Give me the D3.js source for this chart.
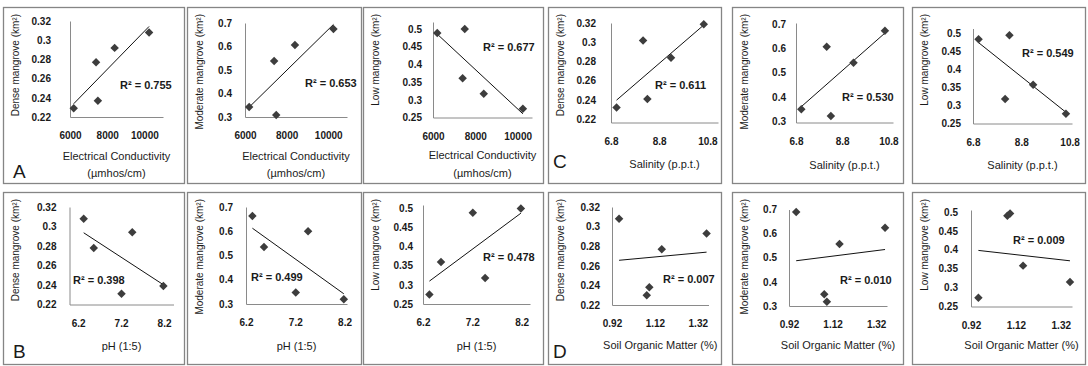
<!DOCTYPE html>
<html>
<head>
<meta charset="utf-8" />
<title>Mangrove cover vs soil factors</title>
<style>
html, body {
	margin: 0px;
	padding: 0px;
	background: #fff;
}
svg text {
	font-family: "Liberation Sans", Arial, sans-serif;
	fill: #1a1a1a;
}
</style>
</head>
<body>

<svg id="chart" width="1088" height="366"></svg>

<script src="https://cdn.jsdelivr.net/npm/d3@7"></script>
<script>

// soil factors, one value per site (same site order in every array)
var ec = [6200, 7400, 7500, 8400, 10250];
var salinity = [7.03, 9.29, 8.31, 8.13, 10.65];
var ph = [7.21, 6.565, 8.185, 7.46, 6.33];
var som = [1.082, 1.152, 1.094, 1.361, 0.953];

// mangrove area (km2)
var denseEC = [0.229, 0.277, 0.237, 0.292, 0.308];
var moderateEC = [0.343, 0.538, 0.309, 0.606, 0.674];
var lowEC = [0.489, 0.361, 0.500, 0.317, 0.275];

var denseSal = [0.232, 0.284, 0.241, 0.302, 0.319];
var moderateSal = [0.350, 0.541, 0.323, 0.607, 0.672];
var lowSal = [0.484, 0.358, 0.495, 0.318, 0.277];

var densePH = [0.231, 0.278, 0.239, 0.294, 0.308];
var moderatePH = [0.347, 0.535, 0.320, 0.600, 0.663];
var lowPH = [0.489, 0.360, 0.500, 0.318, 0.275];

var denseSOM = [0.230, 0.277, 0.238, 0.293, 0.308];
var moderateSOM = [0.349, 0.557, 0.318, 0.624, 0.690];
var lowSOM = [0.490, 0.358, 0.496, 0.315, 0.273];

// tick labels
var ecTicks = [6000, 8000, 10000];
var salTicks = [6.8, 8.8, 10.8];
var phTicks = [6.2, 7.2, 8.2];
var somTicks = [0.92, 1.12, 1.32];
var denseTicks = [0.22, 0.24, 0.26, 0.28, 0.3, 0.32];
var moderateTicks = [0.3, 0.4, 0.5, 0.6, 0.7];
var lowTicks = [0.25, 0.3, 0.35, 0.4, 0.45, 0.5];

// R squared as printed
var r2EC = ["0.755", "0.653", "0.677"];
var r2Sal = ["0.611", "0.530", "0.549"];
var r2PH = ["0.398", "0.499", "0.478"];
var r2SOM = ["0.007", "0.010", "0.009"];

var yTitles = ["Dense mangrove (km²)", "Moderate mangrove (km²)", "Low mangrove (km²)"];
var ecTitle = ["Electrical Conductivity", "(µmhos/cm)"];
var salTitle = ["Salinity (p.p.t.)"];
var phTitle = ["pH (1:5)"];
var somTitle = ["Soil Organic Matter (%)"];

var groupLetters = ["A", "B", "C", "D"];

// panel layout: box, plot area [left, right, top, bottom], scale domains, label spots
var panels = [
	{x: ec, y: denseEC, xt: ecTicks, yt: denseTicks, r2: r2EC[0], yTitle: yTitles[0], xTitle: ecTitle,
	 box: [3, 7, 184, 183], plot: [70, 163, 21, 117], xd: [6000, 11000], yd: [0.22, 0.32], gap: 19, r2at: [120, 85], ty: [160, 177]},
	{x: ec, y: moderateEC, xt: ecTicks, yt: moderateTicks, r2: r2EC[1], yTitle: yTitles[1], xTitle: ecTitle,
	 box: [187, 7, 361, 183], plot: [245, 347, 23, 117], xd: [6000, 10900], yd: [0.3, 0.7], gap: 13, r2at: [305, 83], ty: [160, 177]},
	{x: ec, y: lowEC, xt: ecTicks, yt: lowTicks, r2: r2EC[2], yTitle: yTitles[2], xTitle: ecTitle,
	 box: [363, 7, 543, 183], plot: [433, 532, 22, 117.5], xd: [6000, 10680], yd: [0.25, 0.52], gap: 11, r2at: [483, 47], ty: [159, 177]},
	{x: salinity, y: denseSal, xt: salTicks, yt: denseTicks, r2: r2Sal[0], yTitle: yTitles[0], xTitle: salTitle,
	 box: [548, 7, 721, 183], plot: [611, 718, 23, 122.5], xd: [6.8, 11.24], yd: [0.2164, 0.3204], gap: 15, r2at: [655, 85], ty: [168]},
	{x: salinity, y: moderateSal, xt: salTicks, yt: moderateTicks, r2: r2Sal[1], yTitle: yTitles[1], xTitle: salTitle,
	 box: [732, 7, 903, 183], plot: [796, 893, 23, 122.5], xd: [6.8, 11.0], yd: [0.296, 0.704], gap: 10, r2at: [842, 97], ty: [169]},
	{x: salinity, y: lowSal, xt: salTicks, yt: lowTicks, r2: r2Sal[2], yTitle: yTitles[2], xTitle: salTitle,
	 box: [912, 7, 1085, 183], plot: [973, 1072, 28.5, 123.5], xd: [6.8, 10.9], yd: [0.25, 0.514], gap: 12, r2at: [1022, 53], ty: [169]},

	{x: ph, y: densePH, xt: phTicks, yt: denseTicks, r2: r2PH[0], yTitle: yTitles[0], xTitle: phTitle,
	 box: [3, 192, 184, 364], plot: [69.5, 173.5, 207, 304.5], xd: [6.0, 8.42], yd: [0.22, 0.32], gap: 13, r2at: [73, 280], ty: [350]},
	{x: ph, y: moderatePH, xt: phTicks, yt: moderateTicks, r2: r2PH[1], yTitle: yTitles[1], xTitle: phTitle,
	 box: [187, 192, 361, 364], plot: [246, 347, 207, 304], xd: [6.2, 8.25], yd: [0.3, 0.7], gap: 13, r2at: [251, 277], ty: [350]},
	{x: ph, y: lowPH, xt: phTicks, yt: lowTicks, r2: r2PH[2], yTitle: yTitles[2], xTitle: phTitle,
	 box: [363, 192, 543, 364], plot: [423, 530, 205, 304], xd: [6.2, 8.37], yd: [0.25, 0.509], gap: 10, r2at: [483, 257], ty: [350]},
	{x: som, y: denseSOM, xt: somTicks, yt: denseTicks, r2: r2SOM[0], yTitle: yTitles[0], xTitle: somTitle,
	 box: [548, 192, 721, 364], plot: [612, 708.5, 207, 305], xd: [0.92, 1.37], yd: [0.22, 0.32], gap: 12, r2at: [663, 279], ty: [349]},
	{x: som, y: moderateSOM, xt: somTicks, yt: moderateTicks, r2: r2SOM[1], yTitle: yTitles[1], xTitle: somTitle,
	 box: [732, 192, 903, 364], plot: [789, 887, 209.5, 306], xd: [0.92, 1.37], yd: [0.3, 0.7], gap: 12, r2at: [840, 280], ty: [349]},
	{x: som, y: lowSOM, xt: somTicks, yt: lowTicks, r2: r2SOM[2], yTitle: yTitles[2], xTitle: somTitle,
	 box: [912, 192, 1085, 364], plot: [971, 1072, 210, 306.5], xd: [0.92, 1.37], yd: [0.25, 0.505], gap: 13, r2at: [1013, 240], ty: [349]}
];

var letterSpots = [[13, 178], [13, 358], [553, 168], [553, 358]];

var svg = d3.select("#chart");

// least squares fit, like the Excel trendline
function fit(xs, ys) {
	var mx = d3.mean(xs), my = d3.mean(ys);
	var sxy = d3.sum(xs, function(v, i){ return (v - mx) * (ys[i] - my); });
	var sxx = d3.sum(xs, function(v){ return (v - mx) * (v - mx); });
	var b = sxy / sxx;
	return {b: b, a: my - b * mx};
}

var diamond = d3.symbol().type(d3.symbolSquare).size(36);

panels.forEach(function(p) {
	var g = svg.append("g");

	g.append("rect")
		.attr("x", p.box[0] + 0.5)
		.attr("y", p.box[1] + 0.5)
		.attr("width", p.box[2] - p.box[0])
		.attr("height", p.box[3] - p.box[1])
		.attr("fill", "none")
		.attr("stroke", "#858585")
		.attr("stroke-width", 1.3);

	var x = d3.scaleLinear().domain(p.xd).range([p.plot[0], p.plot[1]]);
	var y = d3.scaleLinear().domain(p.yd).range([p.plot[3], p.plot[2]]);

	// axes
	var yAxis = g.append("g")
		.attr("transform", "translate(" + p.plot[0] + ",0)")
		.call(d3.axisLeft(y).tickValues(p.yt).tickFormat(String).tickSize(0).tickPadding(p.gap));
	var xAxis = g.append("g")
		.attr("transform", "translate(0," + p.plot[3] + ")")
		.call(d3.axisBottom(x).tickValues(p.xt).tickFormat(String).tickSize(0).tickPadding(15));

	[yAxis, xAxis].forEach(function(a) {
		a.select(".domain").attr("stroke", "#8a8a8a").attr("stroke-width", 1);
		a.selectAll("text")
			.style("font-family", "'Liberation Sans', Arial, sans-serif")
			.style("font-size", "10px")
			.style("font-weight", "bold")
			.attr("fill", "#262626");
	});

	// trendline
	var f = fit(p.x, p.y);
	var xr = d3.extent(p.x);
	g.append("line")
		.attr("x1", x(xr[0])).attr("y1", y(f.a + f.b * xr[0]))
		.attr("x2", x(xr[1])).attr("y2", y(f.a + f.b * xr[1]))
		.attr("stroke", "#111")
		.attr("stroke-width", 1);

	// points
	g.selectAll("path.pt")
		.data(p.x.map(function(v, i){ return [v, p.y[i]]; }))
		.enter()
		.append("path")
			.attr("class", "pt")
			.attr("d", diamond)
			.attr("fill", "#3d3d3d")
			.attr("transform", function(d) {
				return "translate(" + x(d[0]) + "," + y(d[1]) + ") rotate(45)";
			});

	g.append("text")
		.attr("x", p.r2at[0])
		.attr("y", p.r2at[1] + 4)
		.style("font-size", "11px")
		.style("font-weight", "bold")
		.text("R² = " + p.r2);

	// axis titles
	p.xTitle.forEach(function(t, i) {
		g.append("text")
			.attr("x", (p.plot[0] + p.plot[1]) / 2)
			.attr("y", p.ty[i])
			.attr("text-anchor", "middle")
			.style("font-size", "11px")
			.text(t);
	});

	g.append("text")
		.attr("transform", "translate(" + (p.box[0] + 16) + "," + (p.box[1] + 7) + ") rotate(-90)")
		.attr("text-anchor", "end")
		.style("font-size", "10px")
		.text(p.yTitle);
});

groupLetters.forEach(function(l, i) {
	svg.append("text")
		.attr("x", letterSpots[i][0])
		.attr("y", letterSpots[i][1])
		.style("font-size", "19px")
		.attr("fill", "#111")
		.text(l);
});

</script>
</body>
</html>
